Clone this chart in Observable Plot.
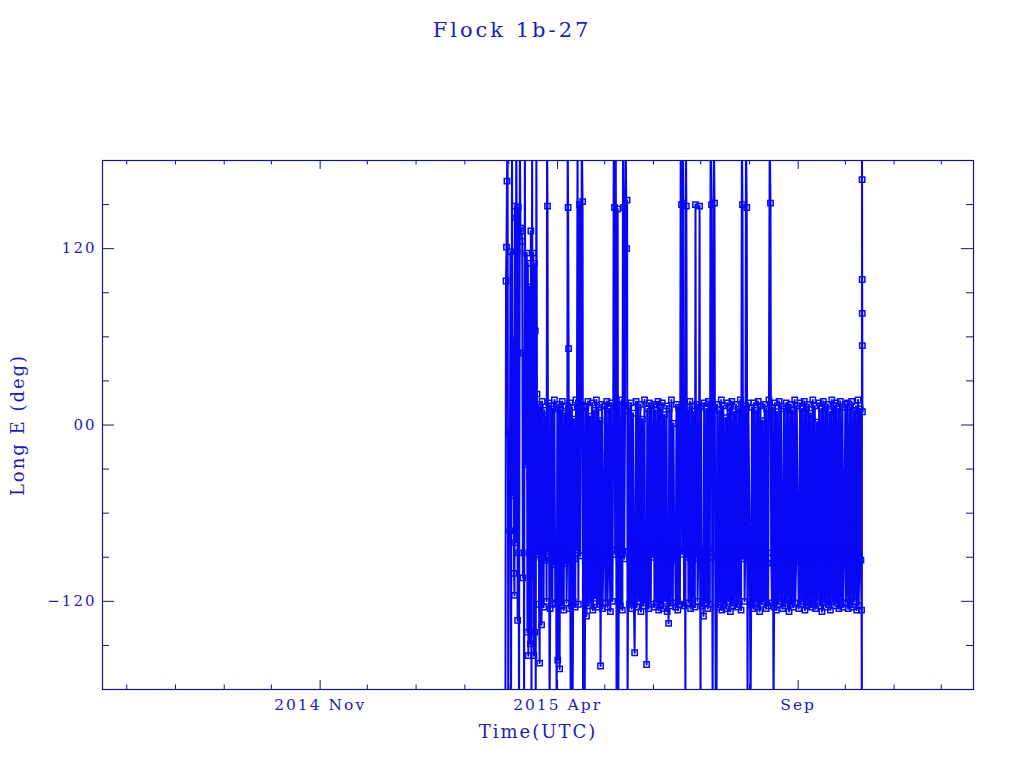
<!DOCTYPE html>
<html>
<head>
<meta charset="utf-8">
<script src="https://cdn.jsdelivr.net/npm/d3@7"></script>
<script src="https://cdn.jsdelivr.net/npm/@observablehq/plot@0.6"></script>
<style>
  body { margin: 0; background: #ffffff; }
  #title { height: 60px; line-height: 60px; text-align: center; font-family: "DejaVu Serif", serif; font-size: 21px; letter-spacing: 3px; color: #1c1cb8; }
  #chart svg { display: block; }
</style>
</head>
<body>
<div id="title">Flock 1b-27</div>
<div id="chart"></div>
<script>
// ---- Tick definitions ----
const yMajorTicks = [-120, 0, 120];
const yTickLabels = ["\u2212120", "00", "120"];
const yMinorTicks = [-150, -90, -60, -30, 30, 60, 90, 150];
const xMajorTicks = ["2014-11-01", "2015-04-01", "2015-09-01"];
const xTickLabels = ["2014 Nov", "2015 Apr", "Sep"];
const xMinorTicks = ["2014-07-01", "2014-08-01", "2014-09-01", "2014-10-01", "2014-12-01", "2015-01-01", "2015-02-01", "2015-03-01", "2015-05-01", "2015-06-01", "2015-07-01", "2015-08-01", "2015-10-01", "2015-11-01", "2015-12-01"];

// ---- Data: [day of month (fractional), longitude E in degrees] ; +/-200 = off-scale excursions ----
const feb2015 = [[26.8,-200],[27.2,98],[27.5,121],[27.8,166],[28.2,200],[28.6,-200]];
const mar2015 = [[1.2,-5],[1.6,-72],[2.0,118],[2.4,-200],[3.0,200],[3.6,-48],[4.0,58],[4.3,-101],[4.6,-116],[4.9,149],[5.3,-80],[5.7,200],[6.0,141],[6.3,118],[6.6,-133],[6.9,148],[7.2,-87],[7.5,-200],[8.0,200],[8.4,134],[9.0,132],[9.5,125],[9.9,-104],[10.3,49],[10.7,-200],[11.2,200],[11.6,-19],[12.0,-27],[12.4,117],[12.8,-141],[13.1,110],[13.4,-157],[13.7,-87],[14.0,94],[14.3,-35],[14.7,-149],[15.0,132],[15.4,-200],[15.8,200],[16.2,-104],[16.6,117],[16.9,-157],[17.2,110],[17.5,-141],[17.8,64],[18.1,-200],[18.5,200],[18.9,21],
  [19.3,-88],[19.8,14],[20.2,-122],[20.6,-162],[21.0,12],[21.4,-90],[21.8,-136],[22.2,16],[22.7,-84],[23.1,-124],[23.6,10],[24.0,-92],[24.5,6],[25.0,-120],[25.3,200],[25.6,149],[26.0,-86],[26.4,15],[26.9,-200],[27.3,-125],[27.8,13],[28.2,-88],[28.7,-122],[29.1,11],[29.6,-95],[30.0,17],[30.5,-121],[31.0,-84],[31.4,-200],[31.8,12]];
const apr2015 = [[1.1,-160],[1.5,14],[1.9,-90],[2.3,-166],[2.7,10],[3.1,-86],[3.6,-123],[4.0,16],[4.5,-82],[4.9,-126],[5.4,8],[5.8,-94],[6.3,13],[6.7,-121],[7.1,-88],[7.4,200],[7.7,148],[8.0,52],[8.4,-125],[8.8,15],[9.3,-200],[9.7,-87],[10.1,12],[10.5,-200],[10.9,-120],[11.3,4],[11.8,-91],[12.2,-124],[12.7,17],[13.1,-85],[13.7,200],[14.2,-122],[14.6,11],[15.0,150],[15.4,-89],[15.9,14],[16.4,200],[16.9,152],[17.2,-200],[17.6,13],[18.2,-200],[18.6,-92],[19.0,12],[19.4,-130],[19.8,-84],[20.3,16],[20.7,-123],[21.2,-88],[21.6,6],[22.1,-121],[22.5,-62],[23.0,15],[23.4,-126],[23.9,-90],[24.3,10],[24.8,-118],[25.2,-83],[25.7,17],[26.1,-124],[26.6,-95],[27.0,12],[27.5,-122],[27.9,3],[28.3,-164],[28.7,-86],[29.2,14],[29.6,-125],[30.1,-92]];
const may2015 = [[1.0,13],[1.4,-121],[1.9,-87],[2.3,16],[2.8,-124],[3.2,-80],[3.7,11],[4.1,-93],[4.6,-127],[5.0,15],[5.5,-85],[5.9,-120],[6.4,9],[6.7,200],[7.2,148],[7.6,-88],[8.0,200],[8.5,-200],[8.9,14],[9.2,147],[9.6,-200],[10.0,-90],[10.4,12],[10.9,-123],[11.3,-84],[11.8,17],[12.2,-126],[12.6,200],[13.0,148],[13.4,-91],[13.9,10],[14.3,200],[14.9,120],[15.2,153],[15.5,-200],[15.9,-86],[16.3,13],[16.8,-122],[17.2,-95],[17.7,15],[18.1,-125],[18.6,-82],[19.0,8],[19.5,-121],[20.0,-155],[20.4,-89],[20.9,16],[21.3,-124],[21.8,-78],[22.2,12],[22.7,-120],[23.1,-92],[23.6,14],[24.0,-127],[24.5,-86],[24.9,4],[25.4,-123],[25.8,-88],[26.3,17],[26.7,-121],[27.2,-84],[27.6,-163],[28.0,11],[28.5,-96],[28.9,-125],[29.4,15],[29.8,-87],[30.3,-122],[30.7,13],[31.2,-90]];
const jun2015 = [[1.2,14],[1.6,-124],[2.1,-85],[2.5,10],[3.0,-121],[3.4,-93],[3.9,16],[4.3,-126],[4.8,-80],[5.2,12],[5.7,-122],[6.1,-88],[6.6,15],[7.0,-125],[7.5,-91],[7.9,7],[8.4,-120],[8.8,-84],[9.3,13],[9.7,-127],[10.2,-87],[10.6,-135],[11.0,11],[11.5,-94],[11.9,-123],[12.4,17],[12.8,-86],[13.3,-121],[13.7,1],[14.2,-89],[14.7,-82],[15.1,-124],[15.6,14],[16.0,-92],[16.5,-126],[16.9,12],[17.4,-85],[17.8,-122],[18.3,200],[18.8,150],[19.2,-88],[19.6,200],[20.0,151],[20.4,-123],[20.8,15],[21.3,-200],[21.6,200],[21.9,149],[22.3,-90],[22.8,10],[23.2,-121],[23.7,-84],[24.1,16],[24.6,-125],[25.0,-93],[25.5,13],[25.9,-122],[26.4,-86],[26.8,9],[27.3,-124],[27.7,150],[28.1,-88],[28.6,14],[29.0,-120],[29.5,-91],[30.0,12],[30.3,149],[30.6,-85],[30.9,-200]];
const jul2015 = [[1.3,13],[1.7,-123],[2.2,-87],[2.8,-130],[3.2,15],[3.7,-92],[4.1,-121],[4.6,11],[5.0,-86],[5.5,-125],[5.9,16],[6.4,-84],[6.8,-122],[7.3,200],[7.9,150],[8.3,-90],[8.6,-200],[9.0,12],[9.4,200],[9.8,151],[10.2,-88],[10.6,-200],[11.1,-200],[11.5,14],[12.0,-124],[12.4,-94],[12.9,10],[13.3,-121],[13.6,-85],[14.1,17],[14.5,-126],[15.0,-89],[15.4,13],[15.9,-122],[16.3,-81],[16.8,5],[17.2,-125],[17.7,-92],[18.1,15],[18.6,-120],[19.0,-86],[19.5,12],[19.9,-127],[20.4,-90],[20.8,16],[21.3,-123],[21.7,-84],[22.2,9],[22.6,-121],[23.1,-95],[23.5,14],[24.0,-124],[24.4,-87],[24.9,11],[25.3,-122],[25.8,-83],[26.2,17],[26.7,-126],[27.2,200],[27.6,150],[28.0,-91],[28.5,13],[28.9,-120],[29.4,-88],[29.8,200],[30.3,148],[30.8,-200],[31.3,15]];
const aug2015 = [[1.2,-85],[1.7,-200],[2.1,-122],[2.6,12],[3.0,-90],[3.5,-125],[3.9,15],[4.4,-86],[4.8,-121],[5.3,10],[5.7,-93],[6.2,-124],[6.6,16],[7.1,-84],[7.5,-127],[8.0,13],[8.4,-88],[8.9,-122],[9.3,3],[9.8,-90],[10.2,-120],[10.7,14],[11.1,-86],[11.6,-125],[12.0,11],[12.5,-94],[12.9,-123],[13.4,17],[13.9,200],[14.4,151],[14.8,-87],[15.3,-121],[15.8,12],[16.3,-200],[16.7,-124],[17.2,15],[17.6,-89],[18.1,-126],[18.5,9],[19.0,-83],[19.4,-122],[19.9,16],[20.3,-91],[20.8,-120],[21.2,13],[21.7,-85],[22.1,-125],[22.6,-66],[23.0,11],[23.5,-123],[23.9,-88],[24.4,15],[24.8,-121],[25.3,-92],[25.7,12],[26.2,-127],[26.6,-86],[27.1,14],[27.5,-122],[28.0,-90],[28.4,10],[28.9,-124],[29.3,-84],[29.8,17],[30.2,-121],[30.7,-93],[31.1,13]];
const sep2015 = [[1.3,-125],[1.7,-87],[2.2,15],[2.6,-122],[3.1,-92],[3.5,11],[4.0,-120],[4.4,-85],[4.9,16],[5.3,-126],[5.8,-89],[6.2,12],[6.7,-123],[7.1,-82],[7.6,14],[8.0,-121],[8.5,-94],[8.9,8],[9.4,-124],[9.8,-87],[10.3,17],[10.7,-122],[11.2,-90],[11.6,13],[12.1,-125],[12.5,-84],[13.0,2],[13.4,-120],[13.9,-91],[14.3,15],[14.8,-123],[15.2,-86],[15.7,11],[16.1,-127],[16.6,-88],[17.0,16],[17.5,-121],[17.9,-93],[18.4,12],[18.8,-124],[19.3,-85],[19.7,14],[20.2,-122],[20.6,-89],[21.1,9],[21.5,-126],[22.0,-72],[22.4,17],[22.9,-120],[23.3,-92],[23.8,13],[24.2,-123],[24.7,-86],[25.1,15],[25.6,-121],[26.0,-90],[26.5,11],[26.9,-125],[27.4,-84],[27.8,16],[28.3,-122],[28.7,-88],[29.2,12],[29.6,-124],[30.1,-94]];
const oct2015 = [[1.0,14],[1.4,-121],[1.9,-87],[2.3,15],[2.8,-125],[3.2,-91],[3.7,12],[4.1,-122],[4.6,-68],[5.0,16],[5.5,-124],[5.9,-86],[6.4,10],[6.8,-120],[7.3,-90],[7.7,13],[8.2,-126],[8.6,-85],[9.1,17],[9.5,-123],[10.0,-88],[10.4,11],[10.9,-92],[11.3,-126],[11.5,-200],[11.6,200],[11.65,167],[11.7,99],[11.75,76],[11.8,54],[11.85,9]];

// month index (0-based) for each block, all 2015
const blocks = [[1, feb2015], [2, mar2015], [3, apr2015], [4, may2015], [5, jun2015], [6, jul2015], [7, aug2015], [8, sep2015], [9, oct2015]];
const table = blocks.flatMap(([m, arr]) => arr.map(([d, lon]) => ({
  t: new Date(Date.UTC(2015, m, 1) + (d - 1) * 864e5),
  lon
})));

const frameColor = "#12128c";
const textColor = "#1c1cb8";
const dataColor = "#0808f4";
const font = "DejaVu Serif";

const W = 1024, H = 708, mT = 100, mB = 79, mL = 102, mR = 51;
const plotW = W - mL - mR, plotH = H - mT - mB;
const parse = s => new Date(s + "T00:00:00Z");

const chart = Plot.plot({
  width: W, height: H,
  marginTop: mT, marginBottom: mB, marginLeft: mL, marginRight: mR,
  style: { fontFamily: font, letterSpacing: "2px", background: "#ffffff" },
  x: { type: "utc", domain: [new Date("2014-06-15T14:00:00Z"), new Date("2015-12-21T12:00:00Z")], axis: null },
  y: { domain: [-180, 180], axis: null },
  marks: [
    Plot.line(table, { x: "t", y: "lon", stroke: dataColor, strokeWidth: 2, clip: true }),
    Plot.dot(table, { x: "t", y: "lon", symbol: "square", r: 3, stroke: dataColor, strokeWidth: 1.5, fill: "none", clip: true }),
    Plot.frame({ stroke: frameColor, strokeWidth: 1.2 }),
    // y ticks (inward, both sides)
    Plot.tickY(yMajorTicks, { y: d => d, stroke: frameColor, insetRight: plotW - 12 }),
    Plot.tickY(yMajorTicks, { y: d => d, stroke: frameColor, insetLeft: plotW - 12 }),
    Plot.tickY(yMinorTicks, { y: d => d, stroke: frameColor, insetRight: plotW - 7 }),
    Plot.tickY(yMinorTicks, { y: d => d, stroke: frameColor, insetLeft: plotW - 7 }),
    // x ticks (inward, top and bottom)
    Plot.tickX(xMajorTicks, { x: d => parse(d), stroke: frameColor, insetTop: plotH - 9 }),
    Plot.tickX(xMajorTicks, { x: d => parse(d), stroke: frameColor, insetBottom: plotH - 9 }),
    Plot.tickX(xMinorTicks, { x: d => parse(d), stroke: frameColor, insetTop: plotH - 4.5 }),
    Plot.tickX(xMinorTicks, { x: d => parse(d), stroke: frameColor, insetBottom: plotH - 4.5 }),
    // tick labels
    Plot.text(yMajorTicks, { y: d => d, text: (d, i) => yTickLabels[i], frameAnchor: "left", dx: -6, textAnchor: "end", lineAnchor: "middle", fill: textColor, fontSize: 15 }),
    Plot.text(xMajorTicks, { x: d => parse(d), text: (d, i) => xTickLabels[i], frameAnchor: "bottom", dy: 16, textAnchor: "middle", lineAnchor: "middle", fill: textColor, fontSize: 15.5 }),
    // axis titles
    Plot.text(["Long E (deg)"], { text: d => d, frameAnchor: "left", dx: -84, rotate: -90, textAnchor: "middle", lineAnchor: "middle", fill: textColor, fontSize: 18 }),
    Plot.text(["Time(UTC)"], { text: d => d, frameAnchor: "bottom", dy: 43, textAnchor: "middle", lineAnchor: "middle", fill: textColor, fontSize: 18 })
  ]
});
document.getElementById("chart").appendChild(chart);
</script>
</body>
</html>
